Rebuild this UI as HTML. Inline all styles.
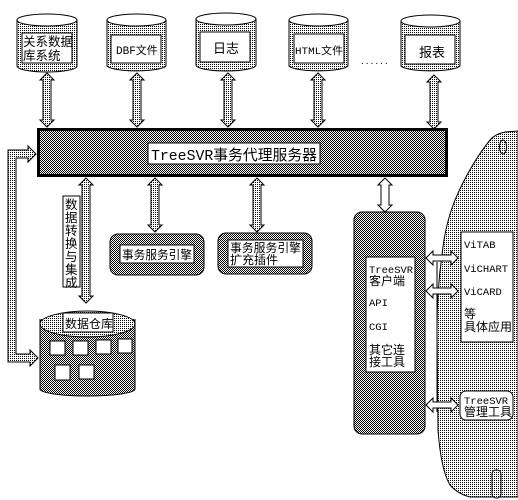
<!DOCTYPE html>
<html><head><meta charset="utf-8"><style>
html,body{margin:0;padding:0;background:#fff;}
svg{display:block;}
text{font-family:"Liberation Sans","Noto Sans CJK SC",sans-serif;fill:#000;}
.m{font-family:"Liberation Mono","Noto Sans CJK SC",monospace;}
</style></head><body>
<svg width="518" height="500" viewBox="0 0 518 500" xmlns="http://www.w3.org/2000/svg">
<defs>
<pattern id="dot" width="2" height="2" patternUnits="userSpaceOnUse"><rect width="2" height="2" fill="#fff"/><rect width="1" height="1" fill="#000"/></pattern>
<pattern id="chk" width="2" height="2" patternUnits="userSpaceOnUse"><rect width="2" height="2" fill="#fff"/><rect width="1" height="1" fill="#000"/><rect x="1" y="1" width="1" height="1" fill="#000"/></pattern>
<g id="va"><polygon points="0,0 7,7 4,7 4,47 7,47 0,54 -7,47 -4,47 -4,7 -7,7" fill="url(#dot)" stroke="#000" stroke-width="1"/></g>
</defs>

<!-- top cylinders -->
<g stroke="#000" stroke-width="1">
<path d="M17,20 L17,66 A30,6 0 0 0 77,66 L77,20" fill="url(#dot)"/><ellipse cx="47" cy="20" rx="30" ry="6" fill="#fff"/>
<path d="M107,20 L107,66 A30,6 0 0 0 166,66 L166,20" fill="url(#dot)"/><ellipse cx="136.5" cy="20" rx="29.5" ry="6" fill="#fff"/>
<path d="M196,19 L196,65 A30,6 0 0 0 256,65 L256,19" fill="url(#dot)"/><ellipse cx="226" cy="19" rx="30" ry="6" fill="#fff"/>
<path d="M289,20 L289,66 A30,6 0 0 0 348,66 L348,20" fill="url(#dot)"/><ellipse cx="318.5" cy="20" rx="29.5" ry="6" fill="#fff"/>
<path d="M401,21 L401,66 A30,6 0 0 0 460,66 L460,21" fill="url(#dot)"/><ellipse cx="430.5" cy="21" rx="29.5" ry="6" fill="#fff"/>
<rect x="22" y="33" width="50" height="30" fill="#fff"/>
<rect x="111" y="35" width="50" height="28" fill="#fff"/>
<rect x="200" y="32" width="50" height="30" fill="#fff"/>
<rect x="294" y="34" width="50" height="29" fill="#fff"/>
<rect x="405" y="35" width="50" height="29" fill="#fff"/>
</g>
<text x="23" y="46" font-size="12.5">关系数据</text>
<text x="23" y="60" font-size="12.5">库系统</text>
<text x="116" y="54" font-size="11" class="m">DBF文件</text>
<text x="213" y="53" font-size="13">日志</text>
<text x="295" y="54" font-size="10.5" class="m" textLength="48" lengthAdjust="spacingAndGlyphs">HTML文件</text>
<text x="419" y="57" font-size="13">报表</text>
<text x="361" y="64" font-size="10" letter-spacing="2">......</text>

<!-- vertical arrows top -->
<use href="#va" x="47" y="73"/>
<use href="#va" x="137" y="73"/>
<use href="#va" x="228" y="73"/>
<use href="#va" x="318" y="73"/>
<use href="#va" x="434" y="75"/>

<!-- main bar -->
<rect x="38.5" y="129.5" width="408" height="46" fill="url(#chk)" stroke="#000" stroke-width="3"/>
<rect x="148" y="143" width="172" height="21" fill="#fff" stroke="#000"/>
<text x="151" y="160" font-size="15" class="m" textLength="166" lengthAdjust="spacingAndGlyphs">TreeSVR事务代理服务器</text>

<!-- left L arrow -->
<path d="M8,150 L28,150 L28,146 L36,154 L28,162 L28,158 L16,158 L16,354 L30,354 L30,350 L38,358 L30,366 L30,362 L8,362 Z" fill="url(#dot)" stroke="#000"/>

<!-- lower vertical arrows -->
<polygon points="86,178 93,185 90,185 90,296 93,296 86,303 79,296 82,296 82,185 79,185" fill="url(#dot)" stroke="#000"/>
<use href="#va" x="155" y="178"/>
<use href="#va" x="257" y="178"/>
<polygon points="385,178 392,185 389,185 389,205 392,205 385,212 378,205 381,205 381,185 378,185" fill="#fff" stroke="#000"/>

<!-- label vertical -->
<rect x="63" y="196" width="17" height="91" fill="#fff" stroke="#000"/>
<text font-size="12.5"><tspan x="65" y="209">数</tspan><tspan x="65" y="222">据</tspan><tspan x="65" y="235">转</tspan><tspan x="65" y="248">换</tspan><tspan x="65" y="261">与</tspan><tspan x="65" y="274">集</tspan><tspan x="65" y="287">成</tspan></text>

<!-- engine boxes -->
<rect x="110" y="234" width="94" height="41" rx="8" fill="url(#chk)" stroke="#000"/>
<rect x="120" y="245" width="74" height="18" fill="#fff" stroke="#000"/>
<text x="122" y="259" font-size="12" textLength="70" lengthAdjust="spacingAndGlyphs">事务服务引擎</text>
<rect x="218" y="233" width="94" height="41" rx="8" fill="url(#chk)" stroke="#000"/>
<rect x="228" y="240" width="75" height="27" fill="#fff" stroke="#000"/>
<text x="230" y="252" font-size="12" textLength="71" lengthAdjust="spacingAndGlyphs">事务服务引擎</text>
<text x="230" y="264" font-size="12">扩充插件</text>

<!-- warehouse -->
<path d="M40,319 L40,389 A47.5,7 0 0 0 135,389 L135,319" fill="url(#chk)" stroke="#000"/>
<ellipse cx="87.5" cy="324" rx="47.5" ry="13" fill="url(#dot)" stroke="#000"/>
<rect x="63" y="313" width="50" height="19" fill="#fff" stroke="#000"/>
<text x="65" y="328" font-size="12">数据仓库</text>
<g fill="#fff" stroke="#000">
<rect x="50" y="341" width="15" height="14"/><rect x="73" y="341" width="15" height="14"/><rect x="96" y="340" width="15" height="14"/><rect x="118" y="339" width="14" height="14"/>
<rect x="55" y="365" width="15" height="15"/><rect x="79" y="365" width="15" height="14"/>
</g>

<!-- right blob -->
<path d="M518,131 L505,132 Q495,134 490,140 Q470,165 455,200 Q445,225 442,255 Q437,290 437,330 L438,430 Q441,470 450,485 Q458,494 470,497 L518,497 Z" fill="url(#dot)" stroke="#000"/>
<ellipse cx="503" cy="147" rx="3.5" ry="7" fill="none" stroke="#000"/>
<rect x="492" y="470" width="9" height="28" rx="4" fill="url(#dot)" stroke="#000"/>

<!-- client box -->
<rect x="354" y="212" width="71" height="222" rx="8" fill="url(#chk)" stroke="#000"/>
<rect x="366" y="257" width="49" height="115" fill="#fff" stroke="#000"/>
<g font-size="10.5"><text x="369" y="273" class="m">TreeSVR</text><text x="369" y="306" class="m">API</text><text x="369" y="330" class="m">CGI</text></g>
<text x="369" y="285" font-size="12">客户端</text>
<text x="369" y="354" font-size="12">其它连</text>
<text x="369" y="366" font-size="12">接工具</text>

<line x1="437" y1="262" x2="437" y2="412" stroke="#000"/>

<!-- horizontal arrows -->
<g fill="#fff" stroke="#000">
<polygon points="426,258 433,251 433,255 451,255 451,251 458,258 451,265 451,261 433,261 433,265"/>
<polygon points="426,291 433,284 433,288 451,288 451,284 458,291 451,298 451,294 433,294 433,298"/>
<polygon points="426,405 433,398 433,402 451,402 451,398 458,405 451,412 451,408 433,408 433,412"/>
</g>

<!-- apps box -->
<rect x="461" y="232" width="52" height="110" fill="#fff" stroke="#000"/>
<g font-size="10.5"><text x="464" y="248" class="m">ViTAB</text><text x="464" y="272" class="m">ViCHART</text><text x="464" y="295" class="m">ViCARD</text></g>
<text x="464" y="318" font-size="12">等</text>
<text x="464" y="331" font-size="12">具体应用</text>

<rect x="460" y="391" width="53" height="29" rx="6" fill="#fff" stroke="#000"/>
<text x="464" y="404" font-size="10.5" class="m">TreeSVR</text>
<text x="464" y="416" font-size="12">管理工具</text>
</svg>
</body></html>
